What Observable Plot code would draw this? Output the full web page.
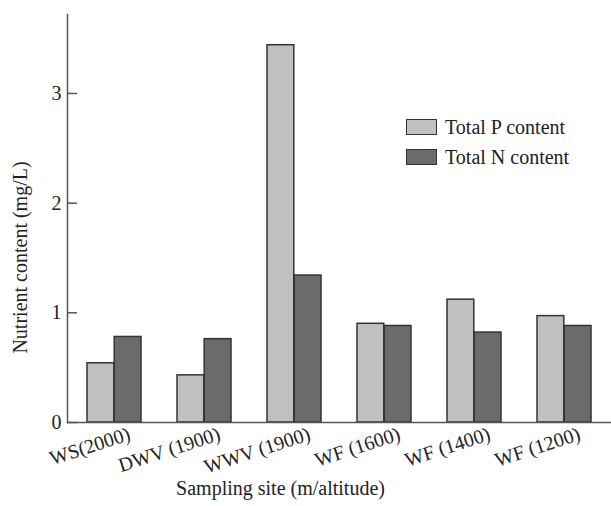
<!DOCTYPE html>
<html><head><meta charset="utf-8">
<script src="https://cdn.jsdelivr.net/npm/d3@7"></script>
<script src="https://cdn.jsdelivr.net/npm/@observablehq/plot@0.6"></script>
<style>
body{margin:0;background:#fff;}
#wrap{position:relative;width:611px;height:506px;font-family:"Liberation Serif",serif;}
.legend{position:absolute;left:406px;top:112px;font-size:20px;color:#222;}
.legend .row{display:flex;align-items:center;height:30px;}
.legend .sw{width:29px;height:14px;border:1.5px solid #333;margin-right:8px;}
</style>
</head><body><div id="wrap"></div>
<script>
const sites = ["WS(2000)", "DWV (1900)", "WWV (1900)", "WF (1600)", "WF (1400)", "WF (1200)"];
const totalP = [0.54, 0.43, 3.44, 0.90, 1.12, 0.97];
const totalN = [0.78, 0.76, 1.34, 0.88, 0.82, 0.88];
const seriesNames = ["Total P content", "Total N content"];
const seriesColors = ["#c0c0c0", "#6b6b6b"];
const yTicks = [0, 1, 2, 3];
const xTitle = "Sampling site (m/altitude)";
const yTitle = "Nutrient content (mg/L)";

const data = sites.map((s, i) => ({site: s, p: totalP[i], n: totalN[i]}));

const chart = Plot.plot({
  width: 611,
  height: 506,
  marginLeft: 67,
  marginRight: 0,
  marginTop: 14,
  marginBottom: 84,
  style: {fontFamily: "Liberation Serif", fontSize: "20px", color: "#222", background: "#fff"},
  x: {domain: sites, paddingInner: 0.4, paddingOuter: 0.2},
  y: {domain: [0, 3.72]},
  marks: [
    Plot.barY(data, {x: "site", y: "p", fill: seriesColors[0], stroke: "#333", strokeWidth: 1.5, insetRight: 27.2}),
    Plot.barY(data, {x: "site", y: "n", fill: seriesColors[1], stroke: "#333", strokeWidth: 1.5, insetLeft: 27.2}),
    Plot.ruleY([0], {stroke: "#555", strokeWidth: 1.5}),
    Plot.frame({anchor: "left", stroke: "#555", strokeWidth: 1.5}),
    Plot.axisY({ticks: yTicks, tickFormat: d3.format("d"), tickSize: -10, tickPadding: 16, stroke: "#555", strokeWidth: 1.5, strokeOpacity: 1, label: null, fontSize: 20}),
    Plot.axisX({tickSize: 0, tickRotate: -18, tickPadding: 11, dx: 15, label: null, fontSize: 20}),
    Plot.text([xTitle], {frameAnchor: "bottom", dx: -59, dy: 72, fontSize: 20, fill: "#222"}),
    Plot.text([yTitle], {frameAnchor: "left", textAnchor: "middle", rotate: -90, dx: -47, dy: 39, fontSize: 20, fill: "#222"})
  ]
});
const wrap = document.getElementById("wrap");
wrap.appendChild(chart);
const legend = document.createElement("div");
legend.className = "legend";
seriesNames.forEach((name, i) => {
  const row = document.createElement("div");
  row.className = "row";
  const sw = document.createElement("div");
  sw.className = "sw";
  sw.style.background = seriesColors[i];
  const t = document.createElement("span");
  t.textContent = name;
  row.appendChild(sw); row.appendChild(t);
  legend.appendChild(row);
});
wrap.appendChild(legend);
</script>
</body></html>
